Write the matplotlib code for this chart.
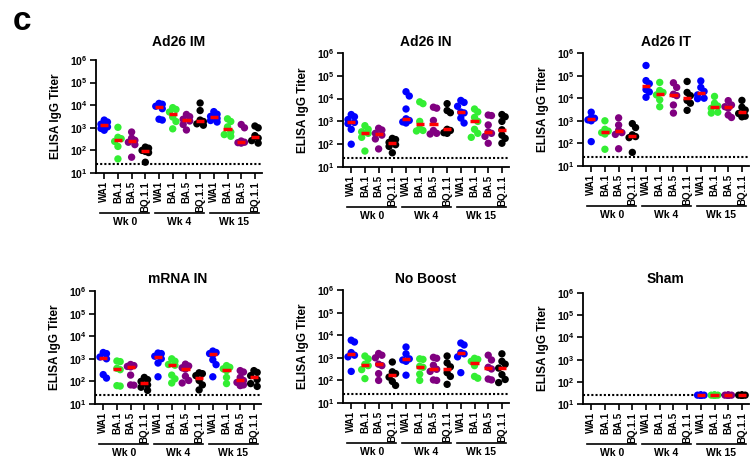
import numpy as np
import matplotlib
matplotlib.use("Agg")
import matplotlib.pyplot as plt
import matplotlib.transforms as mtransforms

plt.rcParams['font.family'] = 'Liberation Sans'
plt.rcParams['font.weight'] = 'bold'
plt.rcParams['mathtext.fontset'] = 'custom'
plt.rcParams['mathtext.rm'] = 'Liberation Sans:bold'
plt.rcParams['mathtext.bf'] = 'Liberation Sans:bold'

variants = ['WA1', 'BA.1', 'BA.5', 'BQ.1.1']
weeks = ['Wk 0', 'Wk 4', 'Wk 15']
colors = ['#0000ff', '#33ee33', '#800080', '#000000']
limit = 25  # detection limit

titles = ['Ad26 IM', 'Ad26 IN', 'Ad26 IT', 'mRNA IN', 'No Boost', 'Sham']

# titers per group: Wk0 WA1, BA.1, BA.5, BQ.1.1, Wk4 ..., Wk15 ...
ad26_im = [
    [2200, 1800, 1450, 1100, 940, 780],
    [1050, 380, 330, 250, 150, 42],
    [650, 350, 280, 230, 180, 50],
    [140, 125, 100, 90, 80, 30],
    [12000, 11000, 9000, 7000, 2400, 2200],
    [7800, 6500, 5000, 3000, 1900, 900],
    [3900, 3100, 2400, 2000, 1400, 800],
    [12500, 5800, 2200, 1900, 1500, 1300],
    [5200, 4000, 3200, 2600, 2100, 1800],
    [2500, 1900, 1100, 650, 500, 420],
    [1400, 1000, 260, 230, 220, 210],
    [1200, 1000, 450, 350, 270, 210],
]
ad26_in = [
    [2000, 1600, 1200, 900, 800, 450, 100],
    [650, 450, 350, 300, 200, 50],
    [500, 420, 300, 250, 170, 62],
    [180, 160, 120, 95, 80, 42],
    [20000, 13000, 3500, 1300, 1100, 950, 850],
    [7200, 6000, 1000, 480, 400, 380],
    [4200, 3800, 1100, 400, 300, 280],
    [6000, 3000, 2400, 450, 400, 320, 300],
    [8300, 6800, 4600, 2570, 2350, 1400, 850],
    [3500, 2600, 1500, 1000, 450, 300, 200],
    [1900, 1800, 700, 350, 300, 220, 110],
    [2000, 1600, 1000, 430, 250, 180, 110],
]
ad26_it = [
    [2400, 1400, 1300, 1100, 1000, 120],
    [1000, 420, 350, 300, 260, 55],
    [1350, 650, 380, 300, 250, 58],
    [750, 500, 240, 200, 180, 40],
    [280000, 60000, 44000, 24000, 19000, 11000],
    [50000, 22000, 18000, 14000, 8500, 4200],
    [48000, 30000, 15000, 13000, 5000, 2200],
    [55000, 18000, 13000, 8000, 6000, 2900],
    [58000, 30000, 20000, 14000, 10000, 9500],
    [12000, 6000, 4500, 3600, 2400, 2200],
    [7800, 5000, 4200, 3600, 1800, 1400],
    [8000, 4000, 3000, 2100, 1600, 1500],
]
mrna_in = [
    [1900, 1700, 1200, 1000, 200, 140],
    [800, 750, 380, 330, 65, 62],
    [560, 500, 460, 440, 190, 70, 68],
    [150, 120, 100, 70, 55, 40],
    [1800, 1700, 1300, 1000, 650, 160],
    [1000, 780, 560, 520, 190, 130, 85],
    [580, 480, 400, 350, 170, 110, 85],
    [240, 220, 180, 110, 70, 42],
    [2200, 1900, 1700, 1550, 900, 550, 160],
    [500, 420, 360, 300, 150, 80],
    [300, 260, 150, 110, 90, 70, 65],
    [300, 250, 180, 120, 80, 60],
]
no_boost = [
    [6000, 5000, 1700, 1300, 1100, 250],
    [1200, 900, 520, 450, 300, 120],
    [1550, 1300, 1000, 520, 450, 200, 100],
    [650, 240, 200, 140, 90, 60],
    [3000, 1500, 900, 800, 700, 170],
    [900, 850, 420, 380, 190, 100],
    [1050, 950, 470, 310, 250, 105, 100],
    [1200, 600, 400, 220, 150, 67],
    [4500, 3700, 1700, 1500, 1100, 220],
    [950, 850, 700, 450, 150, 125],
    [1300, 800, 380, 320, 115, 105],
    [1500, 700, 520, 350, 180, 110, 80],
]
sham = [
    [], [], [], [],
    [], [], [], [],
    [25, 25, 25, 25, 25, 25],
    [25, 25, 25, 25, 25, 25],
    [25, 25, 25, 25, 25, 25],
    [25, 25, 25, 25, 25, 25],
]
panel_data = [ad26_im, ad26_in, ad26_it, mrna_in, no_boost, sham]

# panel boxes in pixels: left, top, bottom, title y
W, H = 750, 461
boxes = [(96, 60, 173, 42), (343, 53, 167, 42), (583, 53, 166, 42),
         (95, 291, 404, 279), (343, 290, 403, 279), (583, 293, 404, 279)]
PX_PER_CAT = 13.7
XMIN, XMAX = -0.6, 11.5


def swarm(vals, ppd, dot=6.5, max_off=0.3):
    # simple beeswarm in pixel space, returns offsets in category units
    if len(vals) == 0:
        return np.array([])
    ys = np.log10(vals) * ppd
    order = np.argsort(-ys)
    step = dot * 0.5
    cands = [0.0]
    k = 1
    while k * step <= max_off * PX_PER_CAT + 1e-9:
        cands += [k * step, -k * step]
        k += 1
    placed = []
    offs = np.zeros(len(vals))
    for i in order:
        best, best_gap = 0.0, -1.0
        chosen = None
        for c in cands:
            gap = min([np.hypot(c - px, ys[i] - py) for px, py in placed], default=99)
            if gap >= dot * 0.8:
                chosen = c
                break
            if gap > best_gap:
                best_gap, best = gap, c
        if chosen is None:
            chosen = best
        offs[i] = chosen
        placed.append((chosen, ys[i]))
    return offs / PX_PER_CAT


fig = plt.figure(figsize=(7.5, 4.61), dpi=100)
fig.text(13 / W, 1 - 21 / H, 'c', fontsize=24, fontweight='bold', va='center', ha='left')

for title, data, (left, top, bottom, ty) in zip(titles, panel_data, boxes):
    width = (XMAX - XMIN) * PX_PER_CAT
    ax = fig.add_axes([left / W, 1 - bottom / H, width / W, (bottom - top) / H])
    ppd = (bottom - top) / 5.0

    ax.axhline(limit, color='black', ls=(0, (1, 1)), lw=1.5, zorder=1)
    for i, vals in enumerate(data):
        if len(vals) == 0:
            continue
        vals = np.array(vals, dtype=float)
        xs = i + swarm(vals, ppd)
        ax.scatter(xs, vals, s=28, color=colors[i % 4], edgecolors='none', zorder=3)
        ax.hlines(np.median(vals), i - 0.3, i + 0.3, color='red', lw=2.5, zorder=4)

    ax.set_yscale('log')
    ax.set_ylim(10, 1e6)
    ax.set_xlim(XMIN, XMAX)
    ax.minorticks_off()
    yt = [10 ** k for k in range(1, 7)]
    ax.set_yticks(yt, labels=[r'$\mathbf{10^{%d}}$' % k for k in range(1, 7)], fontsize=7.5)
    ax.set_xticks(range(12), labels=variants * 3, rotation=90, fontsize=7)
    ax.tick_params(axis='both', length=4, width=1.2, pad=2)
    for s in ['top', 'right']:
        ax.spines[s].set_visible(False)
    for s in ['left', 'bottom']:
        ax.spines[s].set_linewidth(1.3)

    ax.set_ylabel('ELISA IgG Titer', fontsize=8.5, fontweight='bold')
    ax.yaxis.set_label_coords(-34 / width, 0.5)

    fig.text((left + width / 2) / W, 1 - ty / H, title, fontsize=10,
             fontweight='bold', ha='center', va='center')

    line_tr = mtransforms.offset_copy(ax.get_xaxis_transform(), fig=fig, y=-40, units='dots')
    text_tr = mtransforms.offset_copy(ax.get_xaxis_transform(), fig=fig, y=-49, units='dots')
    for g, wk in enumerate(weeks):
        c = g * 4 + 1.5
        ax.plot([c - 1.8, c + 1.8], [0, 0], transform=line_tr, clip_on=False,
                color='black', lw=1.2)
        ax.text(c, 0, wk, transform=text_tr, ha='center', va='center',
                fontsize=7.5, fontweight='bold')

fig.savefig('out.png', dpi=100)
